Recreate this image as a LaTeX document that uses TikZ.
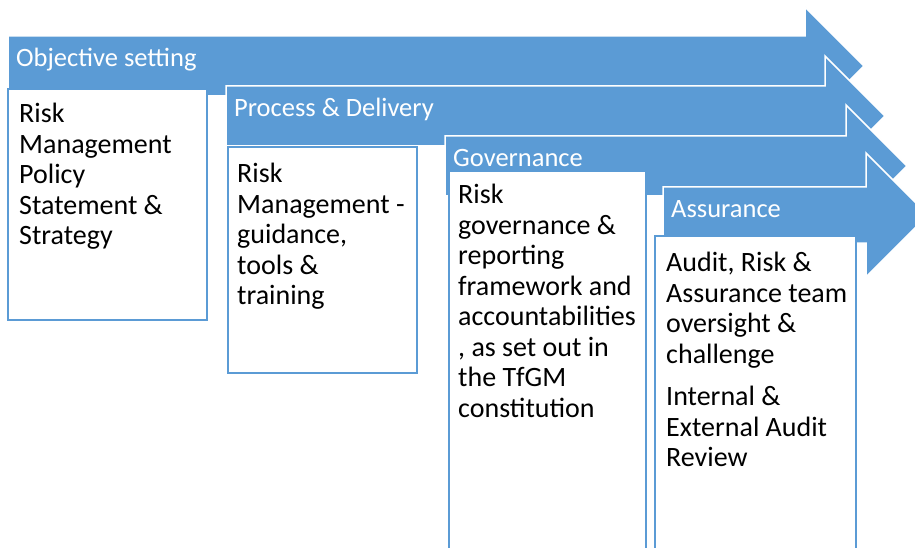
\documentclass[tikz,border=0pt]{standalone}
\usepackage{fontspec}
\setmainfont{Carlito}
\definecolor{stageblue}{RGB}{91,155,213}
\begin{document}
\begin{tikzpicture}[x=1pt,y=-1pt]
% Set styles for Stage arrows, Title labels, Detail boxes and Body text
\tikzstyle{Stage}=[fill=stageblue,draw=white,line width=1.5pt,line join=miter]
\tikzstyle{Title}=[inner sep=0pt,anchor=base west,text=white,font=\fontsize{26.5}{30}\selectfont]
\tikzstyle{Detail}=[rectangle,draw=stageblue,fill=white,line width=2pt,inner sep=0pt,outer sep=0pt,anchor=north west]
\tikzstyle{Body}=[inner sep=0pt,anchor=north west,align=left,font=\fontsize{28}{30.5}\selectfont]
\useasboundingbox (0,0) rectangle (915,548);
\clip (0,0) rectangle (915,548);
% Arrows
\foreach [count=\i] \l/\t/\b/\a/\h/\n in {
    8/36/30/59/805/Objective setting,
    226/86/30/60/825/Process \& Delivery,
    445/136/30/61/846/Governance,
    663/187/28/62/866/Assurance}
{
  \draw[Stage] (\l,\t) -- (\h,\t) -- (\h,\t+\b-\a) -- (\h+\a,\t+\b)
    -- (\h,\t+\b+\a) -- (\h,\t+2*\b) -- (\l,\t+2*\b) -- cycle;
  \node[Title] (s\i) at (\l+8,\t+31) {\n};
}
% Boxes
\foreach [count=\i] \x/\y/\w/\hh in {
    8/89/199/231,
    228/147/189/226,
    449/171/197/389,
    655/236/201/324}
  \node[Detail,minimum width=\w pt,minimum height=\hh pt] (d\i) at (\x,\y) {};
% Texts
\foreach [count=\i] \x/\y/\t in {
    19/103/{Risk\\Management\\Policy\\Statement \&\\Strategy},
    237/163/{Risk\\Management -\\guidance,\\tools \&\\training},
    458/184/{Risk\\governance \&\\reporting\\framework and\\accountabilities\\, as set out in\\the TfGM\\constitution},
    666/252/{Audit, Risk \&\\Assurance team\\oversight \&\\challenge\\[12pt]Internal \&\\External Audit\\Review}}
  \node[Body] (b\i) at (\x,\y) {\t};
\end{tikzpicture}
\end{document}
